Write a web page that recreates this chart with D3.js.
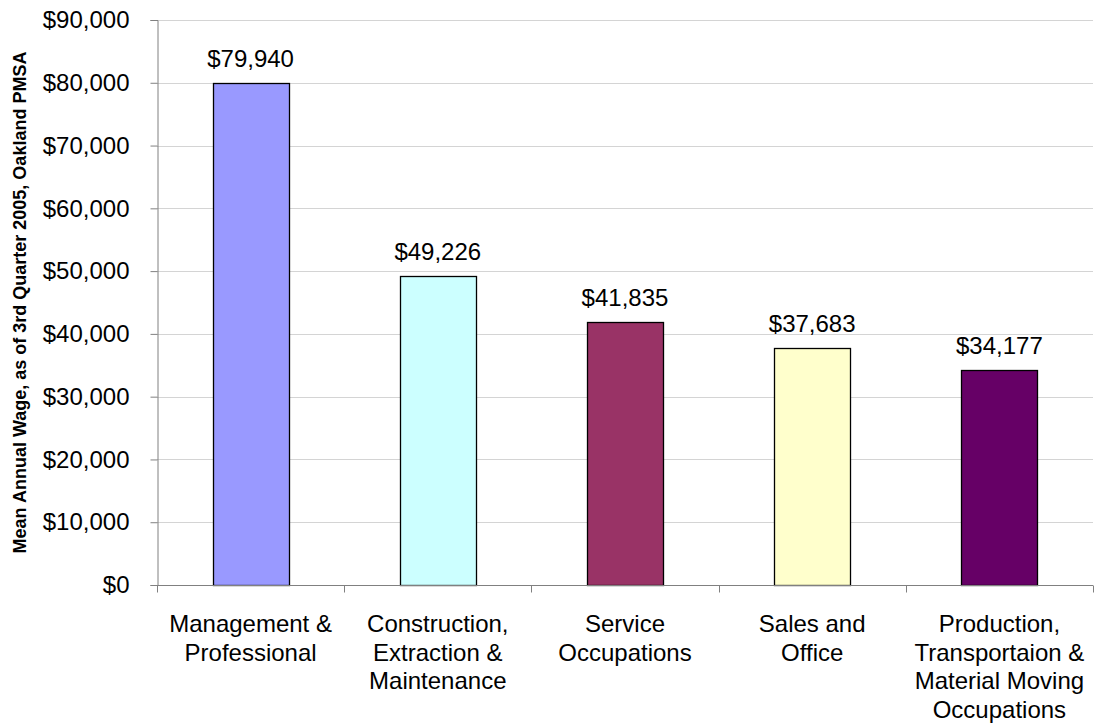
<!DOCTYPE html>
<html>
<head>
<meta charset="utf-8">
<script src="https://cdn.jsdelivr.net/npm/d3@7"></script>
<style>
  html, body { margin: 0; padding: 0; background: #fff; }
  svg { display: block; font-family: "Liberation Sans", Arial, sans-serif; }
</style>
</head>
<body>
<svg id="chart" width="1094" height="723"></svg>
<script>
// Occupation groups and their mean annual wages
const categories = [
  ["Management &", "Professional"],
  ["Construction,", "Extraction &", "Maintenance"],
  ["Service", "Occupations"],
  ["Sales and", "Office"],
  ["Production,", "Transportaion &", "Material Moving", "Occupations"]
];
const wages = [79940, 49226, 41835, 37683, 34177];
const barColors = ["#9999FF", "#CCFFFF", "#993366", "#FFFFCC", "#660066"];
const yTicks = [0, 10000, 20000, 30000, 40000, 50000, 60000, 70000, 80000, 90000];
const yTitle = "Mean Annual Wage, as of 3rd Quarter 2005, Oakland PMSA";

const svg = d3.select("#chart");
const margin = { left: 157, top: 20, right: 1, bottom: 138 };
const W = 1094, H = 723;
const plotW = W - margin.left - margin.right;
const plotH = H - margin.top - margin.bottom;
const fontSize = 24;

const x = d3.scaleBand()
  .domain(d3.range(wages.length))
  .range([0, plotW])
  .paddingInner(0.594)
  .paddingOuter(0.297);

const y = d3.scaleLinear().domain([0, 90000]).range([plotH, 0]);

const g = svg.append("g").attr("transform", `translate(${margin.left},${margin.top})`);

// horizontal gridlines
g.append("g")
  .selectAll("line")
  .data(yTicks.filter(d => d > 0))
  .join("line")
  .attr("x1", 0).attr("x2", plotW)
  .attr("y1", d => Math.round(y(d)) + 0.5).attr("y2", d => Math.round(y(d)) + 0.5)
  .attr("stroke", "#d4d4d4").attr("stroke-width", 1);

// y axis
const yAxis = g.append("g")
  .attr("transform", "translate(0.5,0)")
  .call(d3.axisLeft(y).tickValues(yTicks).tickSize(7).tickPadding(21)
    .tickFormat(d => "$" + d3.format(",")(d)));
yAxis.select(".domain").attr("stroke", "#808080");
yAxis.selectAll(".tick line").attr("stroke", "#808080");
yAxis.selectAll(".tick text")
  .attr("font-size", fontSize).attr("fill", "#000")
  .attr("font-family", "Liberation Sans, Arial, sans-serif");

// bars
g.append("g")
  .selectAll("rect")
  .data(wages)
  .join("rect")
  .attr("x", (d, i) => Math.round(x(i)) + 0.5)
  .attr("y", d => Math.round(y(d)) + 0.5)
  .attr("width", x.bandwidth())
  .attr("height", d => plotH - Math.round(y(d)))
  .attr("fill", (d, i) => barColors[i])
  .attr("stroke", "#000").attr("stroke-width", 1.3);

// value labels above bars
g.append("g")
  .selectAll("text")
  .data(wages)
  .join("text")
  .attr("x", (d, i) => x(i) + x.bandwidth() / 2)
  .attr("y", d => y(d) - 16)
  .attr("text-anchor", "middle")
  .attr("font-size", fontSize).attr("fill", "#000")
  .text(d => "$" + d3.format(",")(d));

// x axis with boundary ticks between categories
const xAxisG = g.append("g").attr("transform", `translate(0,${plotH + 0.5})`);
xAxisG.append("line")
  .attr("x1", 0).attr("x2", plotW)
  .attr("stroke", "#808080");
xAxisG.selectAll(".bt")
  .data(d3.range(wages.length + 1))
  .join("line")
  .attr("class", "bt")
  .attr("x1", i => Math.round(i * x.step()) + 0.5)
  .attr("x2", i => Math.round(i * x.step()) + 0.5)
  .attr("y1", 0).attr("y2", 7)
  .attr("stroke", "#808080");

// category labels, one tspan per line
xAxisG.selectAll(".cat")
  .data(categories)
  .join("text")
  .attr("class", "cat")
  .attr("text-anchor", "middle")
  .attr("font-size", fontSize).attr("fill", "#000")
  .each(function (lines, i) {
    const t = d3.select(this);
    lines.forEach((ln, k) => {
      t.append("tspan")
        .attr("x", x(i) + x.bandwidth() / 2)
        .attr("y", 46.5 + k * 28.5)
        .text(ln);
    });
  });

// y axis title
svg.append("text")
  .attr("transform", `translate(26,${margin.top + plotH / 2}) rotate(-90)`)
  .attr("text-anchor", "middle")
  .attr("font-size", 18).attr("font-weight", "bold").attr("fill", "#000")
  .text(yTitle);
</script>
</body>
</html>
